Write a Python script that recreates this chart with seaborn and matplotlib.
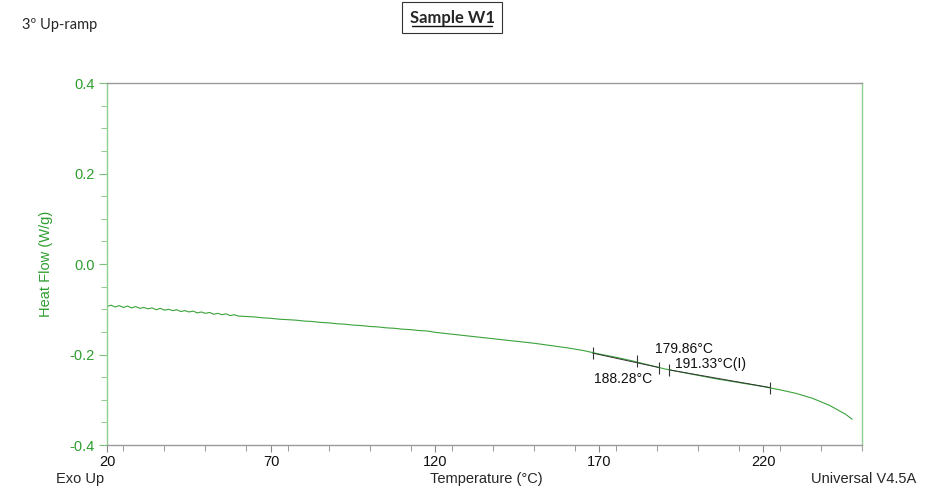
import matplotlib
matplotlib.use("Agg")
import matplotlib.pyplot as plt
import seaborn as sns
import pandas as pd
from matplotlib.ticker import MultipleLocator

# ---- data ----
temperature = [20, 21.25, 22.5, 23.75, 25, 26.25, 27.5, 28.75, 30, 31.25, 32.5, 33.75, 35,
               36.25, 37.5, 38.75, 40, 41.25, 42.5, 43.75, 45, 46.25, 47.5, 48.75, 50,
               51.25, 52.5, 53.75, 55, 56.25, 57.5, 58.75, 60, 62.5, 65, 67.5, 70, 72.5,
               75, 77.5, 80, 82.5, 85, 87.5, 90, 92.5, 95, 97.5, 100, 102.5, 105, 107.5,
               110, 112.5, 115, 117.5, 120, 125, 130, 135, 140, 145, 150, 155, 160, 165,
               170, 175, 180, 185, 190, 195, 200, 205, 210, 215, 220, 225, 230, 235, 240,
               245, 247]
heat_flow = [-0.094, -0.091, -0.095, -0.092, -0.096, -0.093, -0.097, -0.094, -0.098, -0.096,
             -0.099, -0.097, -0.101, -0.098, -0.102, -0.100, -0.103, -0.101, -0.105, -0.103,
             -0.106, -0.104, -0.108, -0.106, -0.109, -0.107, -0.111, -0.109, -0.112, -0.110,
             -0.114, -0.112, -0.115, -0.116, -0.117, -0.119, -0.120, -0.122, -0.123, -0.124,
             -0.126, -0.127, -0.129, -0.130, -0.132, -0.133, -0.135, -0.136, -0.138, -0.139,
             -0.141, -0.142, -0.144, -0.145, -0.147, -0.148, -0.151, -0.155, -0.159, -0.163,
             -0.167, -0.171, -0.175, -0.180, -0.185, -0.191, -0.199, -0.206, -0.214, -0.223,
             -0.232, -0.239, -0.246, -0.253, -0.259, -0.265, -0.271, -0.278, -0.286, -0.297,
             -0.312, -0.332, -0.343]

# analysis markers (temperature, heat flow)
mark_t = [168.0, 181.5, 188.3, 191.3, 222.0]
mark_h = [-0.197, -0.214, -0.229, -0.234, -0.273]

# tangent (analysis) segments
seg1_t = [168.0, 188.3]
seg1_h = [-0.197, -0.229]
seg2_t = [191.3, 222.0]
seg2_h = [-0.234, -0.273]

labels_text = ["179.86°C", "191.33°C(I)", "188.28°C"]
labels_x = [187.0, 193.0, 168.5]
labels_y = [-0.187, -0.222, -0.254]

x_ticks = [20, 70, 120, 170, 220]
y_ticks = [-0.4, -0.2, 0.0, 0.2, 0.4]

sns.set_style("white")
plt.rcParams['font.family'] = ['Liberation Sans', 'DejaVu Sans']

fig = plt.figure(figsize=(9.35, 4.9), dpi=100)
ax = fig.add_axes([0.1144, 0.0918, 0.8075, 0.7388])

df = pd.DataFrame({"T": temperature, "HF": heat_flow})
green = "#2e9e2e"
sns.lineplot(data=df, x="T", y="HF", ax=ax, color="#3aa33a", linewidth=0.8)
sns.lineplot(x=seg1_t, y=seg1_h, ax=ax, color="#333333", linewidth=0.7)
sns.lineplot(x=seg2_t, y=seg2_h, ax=ax, color="#333333", linewidth=0.7)
sns.scatterplot(x=mark_t, y=mark_h, ax=ax, marker="|", s=80, color="#333333", linewidth=0.8)

for t, x, y in zip(labels_text, labels_x, labels_y):
    ax.text(x, y, t, fontsize=10, color="#111111", ha="left", va="center")

ax.set_xlim(20, 250)
ax.set_ylim(-0.4, 0.4)
ax.set_xticks(x_ticks)
ax.set_yticks(y_ticks)
ax.set_yticklabels([f"{v:.1f}" for v in y_ticks])
ax.xaxis.set_minor_locator(MultipleLocator(12.5))
ax.yaxis.set_minor_locator(MultipleLocator(0.05))
ax.tick_params(axis="both", which="both", direction="out", bottom=True, left=True)
ax.tick_params(axis="y", which="major", length=6, pad=3, color="#7cc47c", labelcolor=green, labelsize=10.5)
ax.tick_params(axis="y", which="minor", length=4, color="#7cc47c")
ax.tick_params(axis="x", which="major", length=5, pad=2, color="#888888", labelsize=10.5, labelcolor="#111111")
ax.tick_params(axis="x", which="minor", length=4, color="#888888")

ax.spines["left"].set_color("#8fcf8f")
ax.spines["right"].set_color("#8fcf8f")
ax.spines["top"].set_color("#999999")
ax.spines["bottom"].set_color("#999999")
for s in ax.spines.values():
    s.set_linewidth(1.0)

ax.set_xlabel("")
ax.set_ylabel("Heat Flow (W/g)", color=green, fontsize=10.5, labelpad=12)

fig.text(486 / 935, 1 - 479 / 490, "Temperature (°C)", ha="center", va="center", fontsize=10.5)
fig.text(56 / 935, 1 - 479 / 490, "Exo Up", ha="left", va="center", fontsize=10.5)
fig.text(916 / 935, 1 - 479 / 490, "Universal V4.5A", ha="right", va="center", fontsize=10.5)

fig.text(22 / 935, 1 - 25 / 490, "3º Up-ramp", ha="left", va="center", fontsize=10.5,
         family=["Lato", "DejaVu Sans"])
fig.text(452 / 935, 1 - 18 / 490, "Sample W1", ha="center", va="center", fontsize=12,
         fontweight="bold", family=["Lato", "DejaVu Sans"], zorder=3,
         bbox=dict(boxstyle="square,pad=0.45", fc="white", ec="#333333", lw=0.8))
# underline
fig.add_artist(plt.Line2D([412 / 935, 492 / 935], [1 - 26 / 490, 1 - 26 / 490],
                          color="#111111", lw=1.0, transform=fig.transFigure, zorder=10))

fig.savefig("out.png", dpi=100)
